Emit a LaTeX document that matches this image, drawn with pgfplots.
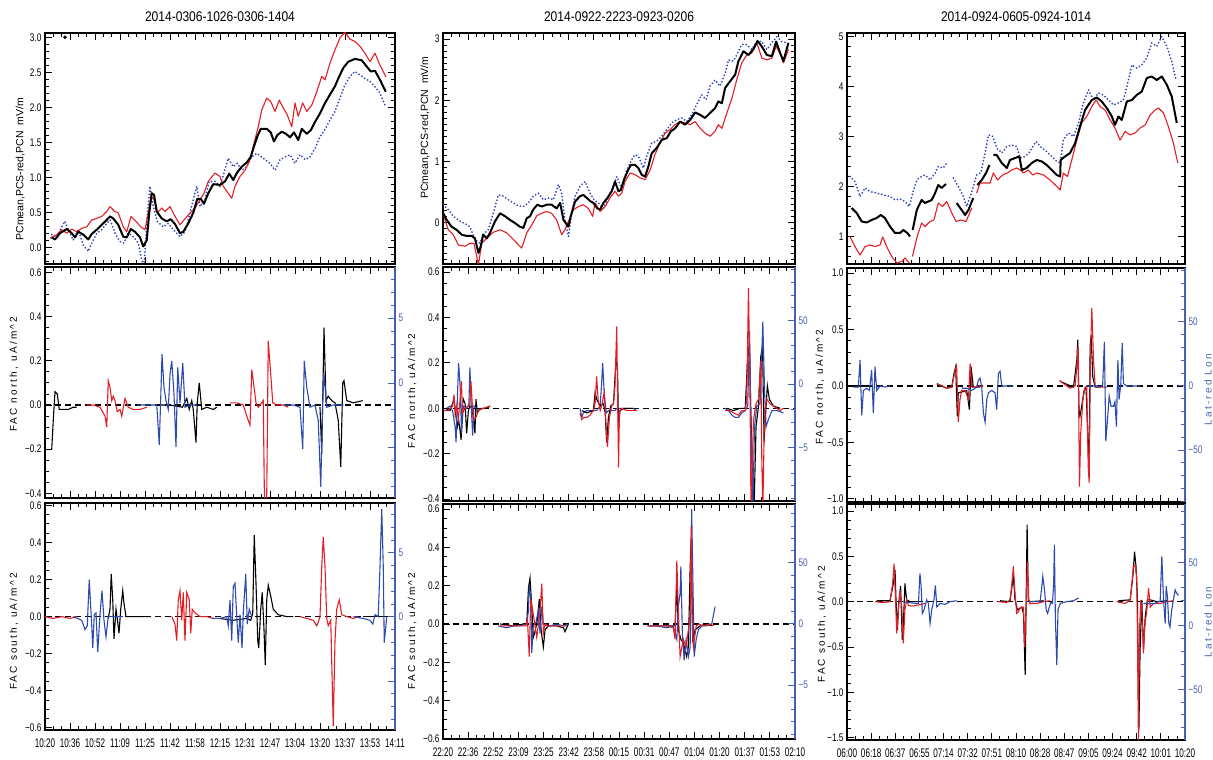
\documentclass[border=0pt]{standalone}
\usepackage{fontspec}
\setmainfont{Liberation Sans}
\newfontfamily\tickfont{Liberation Sans}[FakeStretch=0.75]
\newfontfamily\xtickfont{Liberation Sans}[FakeStretch=0.65]
\newfontfamily\titfont{Liberation Sans}[FakeStretch=0.86]
\newfontfamily\labfont{Liberation Sans}[LetterSpace=22]
\usepackage{pgfplots}
\pgfplotsset{compat=1.18}
\definecolor{redc}{RGB}{228,30,36}
\definecolor{bluec}{RGB}{45,75,175}
\definecolor{blueax}{RGB}{70,95,175}
\definecolor{bluedot}{RGB}{50,70,190}
\pgfplotsset{
 panel/.style={scale only axis, anchor=south west, xmin=0, xmax=14, xtick={0,...,14}, minor x tick num=2,
   xticklabels={}, tick align=inside, major tick length=7pt, minor tick length=4pt,
   axis line style={line width=1.1pt}, tick style={black, line width=0.9pt},
   tick label style={font=\fontsize{11}{12}\selectfont\tickfont}, xtick pos=both,
   unbounded coords=jump,
   ylabel style={font=\fontsize{10}{12}\selectfont\labfont, anchor=center},
   title style={font=\fontsize{14}{16}\selectfont\titfont, yshift=1.5pt}},
 toppanel/.style={panel, ytick pos=both},
 facpanel/.style={panel, ytick pos=left},
 botrow/.style={xticklabel pos=lower, xticklabel style={font=\fontsize{12.5}{14}\selectfont\xtickfont, yshift=-5.5pt}},
 rightax/.style={scale only axis, anchor=south west, xmin=0, xmax=14, axis x line=none, axis y line*=right,
   tick align=inside, major tick length=7pt, minor tick length=4pt,
   y axis line style={blueax, line width=1.1pt}, tick style={blueax, line width=0.9pt},
   yticklabel style={blueax, font=\fontsize{11}{12}\selectfont\tickfont},
   ylabel style={blueax, font=\fontsize{10}{12}\selectfont\labfont, anchor=center}},
 blkT/.style={black, line width=2pt, line join=round},
 redT/.style={redc, line width=1.1pt, line join=round},
 bluT/.style={bluedot, line width=2pt, line cap=round, dash pattern=on 0pt off 3.4pt},
 blkF/.style={black, line width=1.1pt},
 redF/.style={redc, line width=1.1pt},
 bluF/.style={bluec, line width=1.1pt},
 zline/.style={black, line width=1.3pt, dash pattern=on 6pt off 4pt},
}
\begin{document}
\begin{tikzpicture}
\useasboundingbox (0,0) rectangle (1213pt,760pt);
%================ COLUMN 1 =================
\begin{axis}[toppanel, at={(45pt,496pt)}, width=350pt, height=231pt,
  ymin=-0.23, ymax=3.07, ytick={0,0.5,1,1.5,2,2.5,3}, yticklabels={0.0,0.5,1.0,1.5,2.0,2.5,3.0},
  minor ytick={-0.2,-0.1,0.1,0.2,0.3,0.4,0.6,0.7,0.8,0.9,1.1,1.2,1.3,1.4,1.6,1.7,1.8,1.9,2.1,2.2,2.3,2.4,2.6,2.7,2.8,2.9},
  title={2014-0306-1026-0306-1404},
  ylabel={PCmean,PCS-red,PCN\ \ mV/m},
  ylabel style={font=\fontsize{10.5}{12}\selectfont, at={(axis description cs:-0.071,0.41)}}]
\addplot[bluT] coordinates {(0.27,0.19)(0.47,0.16)(0.67,0.30)(0.80,0.38)(0.93,0.26)(1.13,0.11)(1.33,0.26)(1.53,0.04)(1.73,-0.05)(1.87,0.07)(2.07,0.21)(2.27,0.26)(2.47,0.35)(2.60,0.40)(2.80,0.21)(3.00,0.09)(3.16,0.07)(3.33,0.21)(3.53,0.16)(3.73,0.07)(3.87,-0.17)(3.96,-0.27)(4.09,0.45)(4.20,0.88)(4.33,0.59)(4.49,0.38)(4.73,0.30)(4.93,0.35)(5.13,0.26)(5.40,0.16)(5.60,0.23)(5.73,0.40)(5.93,0.69)(6.07,0.88)(6.20,0.59)(6.40,0.69)(6.57,0.95)(6.80,0.95)(7.00,0.88)(7.16,1.07)(7.33,1.28)(7.53,1.16)(7.69,1.21)(7.87,1.11)(8.07,1.16)(8.27,1.30)(8.47,1.35)(8.73,1.28)(9.00,1.21)(9.20,1.11)(9.40,1.26)(9.60,1.30)(9.80,1.33)(10.00,1.21)(10.20,1.33)(10.40,1.26)(10.60,1.30)(10.80,1.42)(11.00,1.59)(11.20,1.69)(11.40,1.83)(11.60,1.95)(11.80,2.14)(12.00,2.33)(12.20,2.45)(12.40,2.52)(12.60,2.47)(12.80,2.42)(13.00,2.38)(13.20,2.30)(13.40,2.21)(13.63,2.01)};
\addplot[redT] coordinates {(0.20,0.14)(0.47,0.19)(0.67,0.26)(0.87,0.21)(1.07,0.27)(1.27,0.23)(1.47,0.28)(1.67,0.30)(1.87,0.40)(2.07,0.42)(2.27,0.45)(2.47,0.52)(2.60,0.59)(2.76,0.53)(2.93,0.50)(3.13,0.30)(3.27,0.23)(3.44,0.45)(3.64,0.38)(3.83,0.30)(4.00,0.26)(4.13,0.50)(4.24,0.73)(4.36,0.69)(4.49,0.50)(4.67,0.57)(4.80,0.52)(5.00,0.59)(5.20,0.45)(5.40,0.33)(5.56,0.40)(5.73,0.47)(6.00,0.57)(6.20,0.69)(6.36,0.78)(6.53,0.95)(6.80,1.07)(7.00,1.02)(7.13,0.88)(7.33,0.78)(7.47,0.71)(7.60,0.88)(7.80,1.02)(8.00,1.11)(8.20,1.26)(8.33,1.45)(8.53,1.73)(8.67,1.97)(8.87,2.14)(9.03,2.09)(9.20,1.95)(9.37,2.11)(9.53,2.00)(9.69,1.90)(9.87,1.73)(10.00,2.07)(10.13,1.88)(10.31,2.07)(10.47,1.95)(10.67,2.04)(10.87,2.23)(11.07,2.45)(11.20,2.40)(11.40,2.64)(11.60,2.83)(11.80,3.00)(12.00,3.08)(12.20,2.98)(12.40,2.95)(12.60,2.88)(12.80,2.78)(13.00,2.66)(13.20,2.78)(13.40,2.61)(13.64,2.44)};
\addplot[blkT] coordinates {(0.27,0.15)(0.40,0.12)(0.60,0.21)(0.87,0.27)(1.07,0.21)(1.20,0.15)(1.33,0.23)(1.53,0.19)(1.73,0.12)(1.87,0.20)(2.07,0.26)(2.27,0.33)(2.47,0.40)(2.60,0.45)(2.73,0.42)(2.93,0.33)(3.13,0.16)(3.27,0.15)(3.43,0.27)(3.60,0.23)(3.80,0.15)(3.93,0.02)(4.07,0.11)(4.17,0.50)(4.27,0.78)(4.36,0.76)(4.47,0.52)(4.67,0.42)(4.87,0.38)(5.03,0.41)(5.20,0.34)(5.40,0.21)(5.53,0.23)(5.73,0.35)(5.93,0.50)(6.09,0.70)(6.23,0.70)(6.36,0.63)(6.53,0.78)(6.73,0.91)(7.00,0.90)(7.20,0.95)(7.37,1.06)(7.53,0.97)(7.69,1.08)(7.87,1.16)(8.07,1.22)(8.23,1.30)(8.36,1.45)(8.49,1.59)(8.63,1.70)(8.87,1.70)(9.03,1.65)(9.16,1.52)(9.29,1.61)(9.47,1.66)(9.64,1.63)(9.80,1.58)(9.96,1.65)(10.13,1.54)(10.27,1.70)(10.47,1.63)(10.63,1.68)(10.80,1.80)(11.00,1.92)(11.20,2.07)(11.40,2.19)(11.60,2.31)(11.73,2.42)(11.93,2.57)(12.13,2.66)(12.40,2.70)(12.67,2.68)(12.87,2.59)(13.03,2.52)(13.20,2.53)(13.40,2.40)(13.63,2.23)};
\addplot[only marks, mark=*, mark size=1.6pt, black] coordinates {(0.80,3.01)};
\end{axis}
% col1 middle
\begin{axis}[facpanel, at={(45pt,262pt)}, width=350pt, height=231pt,
  ymin=-0.421, ymax=0.625, ytick={-0.4,-0.2,0,0.2,0.4,0.6}, yticklabels={−0.4,−0.2,0.0,0.2,0.4,0.6},
  minor ytick={-0.35,-0.3,-0.25,-0.15,-0.1,-0.05,0.05,0.1,0.15,0.25,0.3,0.35,0.45,0.5,0.55},
  ylabel={FAC north, uA/m\textasciicircum 2}, ylabel style={at={(axis description cs:-0.089,0.535)}}]
\addplot[zline] coordinates {(0,0)(14,0)};
\addplot[blkF] coordinates {(0.27,-0.20)(0.33,-0.07)(0.40,0.06)(0.49,0.05)(0.57,-0.02)(0.73,-0.02)(0.93,-0.02)(1.13,-0.01)(1.27,-0.01)};
\addplot[blkF] coordinates {(4.5,0)(5.0,0)(5.5,-0.01)(5.67,0.03)(5.77,-0.02)(5.87,0.02)(5.93,-0.02)(6.04,-0.17)(6.09,0.01)(6.17,0.10)(6.27,-0.02)(6.47,-0.01)(6.73,-0.02)(6.87,-0.01)};
\addplot[blkF] coordinates {(11.00,-0.01)(11.07,-0.22)(11.16,0.35)(11.24,0.02)(11.33,0.04)(11.47,0.02)(11.60,0.01)(11.73,-0.07)(11.83,-0.28)(11.91,0.10)(11.96,0.11)(12.07,0.02)(12.33,0.01)(12.71,0.02)};
\addplot[redF] coordinates {(1.67,0)(1.93,0)(2.20,-0.01)(2.40,-0.05)(2.47,-0.10)(2.53,0.11)(2.60,0.08)(2.67,0.02)(2.73,0.04)(2.80,0.02)(2.89,-0.03)(3.00,-0.02)(3.07,-0.05)(3.20,0.03)(3.33,-0.01)(3.53,-0.02)(3.80,-0.02)(4.07,-0.01)};
\addplot[redF] coordinates {(7.40,0.01)(7.67,0.01)(7.93,0)(8.13,-0.07)(8.20,-0.09)(8.27,0.16)(8.33,0.11)(8.44,0.01)(8.53,-0.01)(8.67,0.01)(8.73,0.02)(8.78,-0.45)(8.84,-0.45)(8.87,-0.40)(8.93,0.29)(9.03,0.14)(9.11,0.01)(9.27,0)(9.53,0)(9.73,-0.01)};
\addplot[bluF] coordinates {(3.69,0)(4.07,0)(4.47,0)(4.57,-0.18)(4.64,0.07)(4.68,0.23)(4.76,0.08)(4.84,0.02)(4.93,-0.02)(5.00,0.14)(5.07,0.20)(5.16,0.05)(5.24,-0.19)(5.31,0.17)(5.40,0.01)(5.51,0.19)(5.60,-0.01)(5.80,0)(6.07,0)};
\addplot[bluF] coordinates {(9.53,0)(9.93,0)(10.20,-0.01)(10.31,-0.20)(10.37,0.20)(10.47,0.08)(10.60,-0.01)(10.80,0)(10.93,-0.07)(11.03,-0.37)(11.11,0.02)(11.16,0.14)(11.27,-0.01)(11.53,0)(11.93,0)};
\end{axis}
\begin{axis}[rightax, at={(45pt,262pt)}, width=350pt, height=231pt,
  ymin=-8.85, ymax=8.92, ytick={-5,0,5}, yticklabels={,0,5}, minor ytick={-8,-7,-6,-4,-3,-2,-1,1,2,3,4,6,7,8}]
\end{axis}
% col1 bottom
\begin{axis}[facpanel, botrow, at={(45pt,30pt)}, width=350pt, height=227pt,
  xticklabels={10:20,10:36,10:52,11:09,11:25,11:42,11:58,12:15,12:31,12:47,13:04,13:20,13:37,13:53,14:11},
  ymin=-0.612, ymax=0.613, ytick={-0.6,-0.4,-0.2,0,0.2,0.4,0.6}, yticklabels={−0.6,−0.4,−0.2,0.0,0.2,0.4,0.6},
  minor ytick={-0.55,-0.5,-0.45,-0.35,-0.3,-0.25,-0.15,-0.1,-0.05,0.05,0.1,0.15,0.25,0.3,0.35,0.45,0.5,0.55},
  ylabel={FAC south, uA/m\textasciicircum 2}, ylabel style={at={(axis description cs:-0.089,0.434)}}]
\addplot[zline] coordinates {(0,0)(14,0)};
\addplot[redF] coordinates {(0,0)(0.33,-0.01)(0.67,0)(1.00,-0.01)(1.27,0)};
\addplot[blkF] coordinates {(2.53,-0.01)(2.60,0.04)(2.65,0.23)(2.71,0.09)(2.76,-0.12)(2.84,0.04)(2.89,-0.01)(2.96,-0.09)(3.03,0.04)(3.11,0.14)(3.16,0.07)(3.24,0)(3.53,0)(3.93,0)(4.20,0)};
\addplot[bluF] coordinates {(1.13,0)(1.47,-0.02)(1.60,-0.07)(1.69,-0.05)(1.77,0.20)(1.87,-0.05)(1.91,-0.17)(1.97,0.01)(2.04,0.02)(2.11,-0.19)(2.20,0.01)(2.28,0.14)(2.36,-0.02)(2.44,-0.11)(2.53,0)(2.80,0)(3.13,0)};
\addplot[redF] coordinates {(5.07,0)(5.20,-0.04)(5.27,-0.13)(5.33,0.09)(5.40,0.14)(5.47,-0.02)(5.53,0.13)(5.60,-0.13)(5.67,0.13)(5.77,0.09)(5.83,-0.09)(5.89,0.04)(6.00,0.02)(6.20,0)(6.47,0)(6.73,-0.01)};
\addplot[blkF] coordinates {(7.0,-0.01)(7.5,-0.02)(8.07,-0.01)(8.23,-0.02)(8.31,0.02)(8.37,0.44)(8.44,0.18)(8.51,-0.13)(8.55,-0.17)(8.63,0.04)(8.69,0.13)(8.76,-0.07)(8.81,-0.26)(8.87,0.09)(8.93,0.17)(9.03,0.11)(9.13,0.04)(9.33,0.01)(9.67,0)(9.93,0)};
\addplot[bluF] coordinates {(6.67,-0.01)(7.00,-0.01)(7.27,0)(7.33,-0.05)(7.40,0.09)(7.47,-0.13)(7.53,0.16)(7.60,0.18)(7.67,0)(7.73,-0.14)(7.80,0.01)(7.88,-0.17)(7.93,0.02)(8.03,0.23)(8.09,-0.04)(8.17,0.04)(8.27,0)};
\addplot[redF] coordinates {(10.20,0)(10.47,-0.01)(10.73,-0.02)(10.87,-0.05)(10.93,-0.03)(11.00,0)(11.07,0.27)(11.13,0.43)(11.20,0.27)(11.27,-0.01)(11.33,-0.05)(11.43,-0.02)(11.53,-0.59)(11.60,-0.13)(11.67,0.04)(11.77,0.09)(11.87,0.01)(12.07,0)(12.33,-0.01)(12.53,0)};
\addplot[blkF] coordinates {(12.73,0)(13.87,0)};
\addplot[bluF] coordinates {(12.33,0)(12.73,-0.01)(13.00,-0.02)(13.11,-0.04)(13.20,0.01)(13.33,0)(13.40,0.27)(13.47,0.58)(13.53,0.27)(13.57,-0.14)(13.67,0)};
\end{axis}
\begin{axis}[rightax, at={(45pt,30pt)}, width=350pt, height=227pt,
  ymin=-8.83, ymax=8.9, ytick={-5,0,5}, yticklabels={,0,5}, minor ytick={-8,-7,-6,-4,-3,-2,-1,1,2,3,4,6,7,8}]
\end{axis}
%================ COLUMN 2 =================
\begin{axis}[toppanel, at={(443pt,496pt)}, width=352pt, height=231pt,
  ymin=-0.68, ymax=3.10, ytick={0,1,2,3}, yticklabels={0,1,2,3},
  minor ytick={-0.6,-0.5,-0.4,-0.3,-0.2,-0.1,0.1,0.2,0.3,0.4,0.5,0.6,0.7,0.8,0.9,1.1,1.2,1.3,1.4,1.5,1.6,1.7,1.8,1.9,2.1,2.2,2.3,2.4,2.5,2.6,2.7,2.8,2.9,3.1},
  title={2014-0922-2223-0923-0206},
  ylabel={PCmean,PCS-red,PCN\ \ mV/m},
  ylabel style={font=\fontsize{10.5}{12}\selectfont, at={(axis description cs:-0.051,0.59)}}]
\addplot[bluT] coordinates {(0.01,0.29)(0.21,0.21)(0.41,0.10)(0.68,0.02)(0.88,-0.02)(1.07,-0.07)(1.27,-0.28)(1.47,-0.34)(1.60,-0.20)(1.80,-0.12)(2.00,0.15)(2.20,0.45)(2.40,0.43)(2.60,0.37)(2.80,0.32)(3.00,0.27)(3.20,0.26)(3.40,0.32)(3.59,0.43)(3.79,0.48)(3.99,0.37)(4.19,0.40)(4.39,0.37)(4.59,0.62)(4.72,0.48)(4.85,0.04)(4.99,-0.23)(5.12,0.15)(5.25,0.43)(5.45,0.59)(5.65,0.67)(5.85,0.48)(6.01,0.37)(6.18,0.32)(6.38,0.23)(6.58,0.43)(6.78,0.59)(6.91,0.75)(7.11,0.56)(7.31,0.86)(7.51,1.03)(7.64,1.11)(7.77,1.08)(7.97,0.89)(8.10,1.08)(8.30,1.30)(8.50,1.33)(8.70,1.41)(8.90,1.52)(9.10,1.63)(9.30,1.68)(9.50,1.71)(9.69,1.65)(9.89,1.76)(10.09,1.93)(10.29,2.09)(10.46,2.01)(10.62,2.23)(10.82,2.33)(11.02,2.23)(11.22,2.44)(11.35,2.66)(11.55,2.64)(11.68,2.74)(11.88,2.91)(12.08,2.91)(12.28,2.83)(12.48,2.96)(12.68,2.96)(12.88,2.83)(13.08,2.94)(13.28,3.04)(13.47,2.96)(13.67,2.94)};
\addplot[redT] coordinates {(0.01,0.13)(0.21,-0.12)(0.41,-0.20)(0.61,-0.37)(0.88,-0.39)(1.07,-0.34)(1.23,-0.34)(1.41,-0.69)(1.54,-0.34)(1.74,-0.26)(2.00,-0.16)(2.27,-0.12)(2.53,-0.17)(2.80,-0.28)(3.13,-0.42)(3.33,-0.17)(3.53,-0.04)(3.73,0.11)(3.93,0.15)(4.12,0.18)(4.32,0.15)(4.52,0.04)(4.72,-0.20)(4.85,-0.12)(4.99,0.02)(5.19,0.21)(5.39,0.26)(5.58,0.29)(5.78,0.23)(5.95,0.10)(6.05,0.32)(6.25,0.18)(6.45,0.26)(6.64,0.40)(6.84,0.51)(6.98,0.43)(7.11,0.48)(7.24,0.67)(7.44,0.81)(7.64,0.78)(7.84,0.73)(8.04,0.70)(8.24,0.86)(8.43,1.11)(8.63,1.30)(8.83,1.46)(9.03,1.52)(9.23,1.60)(9.43,1.65)(9.63,1.63)(9.83,1.60)(10.03,1.65)(10.23,1.54)(10.42,1.46)(10.62,1.41)(10.82,1.49)(10.95,1.60)(11.09,1.54)(11.29,1.79)(11.49,2.03)(11.68,2.33)(11.88,2.61)(12.08,2.74)(12.28,2.77)(12.48,2.94)(12.68,2.69)(12.88,2.66)(13.08,2.69)(13.25,2.88)(13.41,2.77)(13.54,2.61)(13.74,2.83)};
\addplot[blkT] coordinates {(0.01,0.15)(0.15,0.04)(0.34,-0.07)(0.54,-0.12)(0.74,-0.20)(0.94,-0.22)(1.14,-0.22)(1.27,-0.26)(1.41,-0.50)(1.50,-0.39)(1.60,-0.20)(1.74,-0.26)(1.87,-0.17)(2.07,0.02)(2.27,0.15)(2.47,0.10)(2.67,0.04)(2.86,-0.01)(3.06,-0.07)(3.20,-0.09)(3.33,0.07)(3.46,0.10)(3.59,0.21)(3.75,0.29)(3.93,0.26)(4.12,0.29)(4.32,0.29)(4.52,0.23)(4.66,0.32)(4.79,0.04)(4.99,-0.07)(5.08,0.10)(5.25,0.34)(5.45,0.43)(5.58,0.45)(5.72,0.40)(5.88,0.34)(5.98,0.32)(6.14,0.23)(6.25,0.21)(6.38,0.32)(6.54,0.40)(6.71,0.51)(6.84,0.67)(6.98,0.51)(7.07,0.53)(7.20,0.70)(7.33,0.83)(7.47,0.94)(7.64,0.94)(7.77,0.89)(7.90,0.78)(8.04,0.75)(8.17,0.92)(8.30,1.13)(8.50,1.22)(8.70,1.35)(8.90,1.38)(9.06,1.49)(9.23,1.54)(9.43,1.65)(9.63,1.60)(9.83,1.68)(10.03,1.80)(10.23,1.76)(10.42,1.71)(10.62,1.79)(10.82,1.87)(10.95,1.98)(11.09,1.95)(11.22,2.20)(11.42,2.31)(11.62,2.42)(11.75,2.64)(11.95,2.80)(12.15,2.74)(12.35,2.84)(12.51,2.97)(12.68,2.88)(12.88,2.74)(13.08,2.72)(13.25,2.96)(13.41,2.77)(13.54,2.64)(13.74,2.94)};
\end{axis}
% col2 middle
\begin{axis}[facpanel, at={(443pt,259pt)}, width=352pt, height=234pt,
  ymin=-0.408, ymax=0.622, ytick={-0.4,-0.2,0,0.2,0.4,0.6}, yticklabels={−0.4,−0.2,0.0,0.2,0.4,0.6},
  minor ytick={-0.35,-0.3,-0.25,-0.15,-0.1,-0.05,0.05,0.1,0.15,0.25,0.3,0.35,0.45,0.5,0.55},
  ylabel={FAC north, uA/m\textasciicircum 2}, ylabel style={at={(axis description cs:-0.088,0.47)}}]
\addplot[zline] coordinates {(0,0)(14,0)};
\addplot[blkF] coordinates {(0.08,0)(0.28,-0.01)(0.44,0.04)(0.52,-0.04)(0.57,-0.08)(0.62,-0.05)(0.68,-0.10)(0.72,-0.14)(0.76,0.01)(0.81,0.04)(0.88,0.02)(0.94,-0.11)(1.01,-0.01)(1.07,0.01)(1.14,0)(1.21,-0.04)(1.27,-0.11)(1.31,0.04)(1.37,-0.02)(1.47,0)(1.74,0)(1.87,0.01)};
\addplot[bluF] coordinates {(0.15,0)(0.28,0.01)(0.38,-0.01)(0.48,-0.08)(0.52,-0.15)(0.57,0.04)(0.62,0.20)(0.68,0.10)(0.74,-0.11)(0.81,0.01)(0.94,0)(1.03,0.02)(1.07,0.18)(1.13,-0.01)(1.18,-0.12)(1.23,0.01)(1.34,0)};
\addplot[redF] coordinates {(0.01,-0.01)(0.21,-0.01)(0.38,0.01)(0.44,0.06)(0.48,-0.02)(0.54,0.01)(0.61,-0.05)(0.68,0.04)(0.73,0.12)(0.78,-0.02)(0.88,0)(1.01,0.01)(1.07,0.02)(1.11,0.12)(1.18,-0.01)(1.23,-0.05)(1.31,-0.04)(1.41,-0.01)(1.60,0)(1.87,0.01)};
\addplot[bluF] coordinates {(5.45,0)(5.52,-0.04)(5.58,-0.02)(5.72,-0.01)(5.92,-0.01)(6.11,-0.01)(6.25,0.01)(6.31,0.11)(6.35,0.20)(6.41,0.07)(6.49,-0.02)(6.58,-0.01)(6.71,-0.01)(6.84,-0.01)(6.91,0)(7.04,0)(7.57,0)(7.68,-0.01)};
\addplot[blkF] coordinates {(5.52,-0.01)(5.72,-0.02)(5.98,-0.01)(6.05,0.07)(6.11,0.04)(6.25,0.01)(6.38,0.02)(6.45,-0.02)(6.51,-0.15)(6.58,-0.04)(6.67,0.01)(6.78,0.02)(6.88,0.21)(6.94,0.18)(6.98,-0.08)(7.04,-0.01)(7.18,0)(7.57,0)};
\addplot[redF] coordinates {(5.45,-0.02)(5.52,-0.05)(5.61,-0.04)(5.72,-0.04)(5.85,-0.03)(5.98,-0.01)(6.05,0.02)(6.11,0.14)(6.17,0.04)(6.25,-0.01)(6.31,0.01)(6.41,0.07)(6.49,-0.08)(6.54,-0.17)(6.62,-0.04)(6.71,0.01)(6.78,0.02)(6.84,0.10)(6.91,0.36)(6.98,-0.26)(7.02,-0.01)(7.11,0)(7.31,-0.01)(7.57,-0.01)(7.71,-0.01)};
\addplot[blkF] coordinates {(11.29,0)(11.55,-0.01)(11.82,0)(12.02,0)(12.11,0.21)(12.19,0.29)(12.24,-0.01)(12.32,-0.30)(12.37,-0.45)(12.45,-0.08)(12.55,0.01)(12.64,0.23)(12.71,0.27)(12.77,-0.15)(12.84,-0.01)(12.90,0.10)(12.98,0.04)(13.14,0.01)(13.41,0)};
\addplot[bluF] coordinates {(11.22,0)(11.35,-0.01)(11.49,-0.03)(11.62,-0.04)(11.75,-0.04)(11.88,-0.02)(12.02,-0.01)(12.12,0.01)(12.19,0.34)(12.25,-0.08)(12.32,-0.45)(12.39,-0.08)(12.48,0.01)(12.61,0.02)(12.72,0.38)(12.79,0.07)(12.85,-0.08)(12.94,-0.05)(13.08,-0.01)(13.28,-0.01)(13.54,-0.02)};
\addplot[redF] coordinates {(11.22,-0.01)(11.42,-0.01)(11.55,-0.02)(11.75,-0.03)(11.88,-0.01)(12.02,-0.01)(12.08,0.04)(12.15,0.53)(12.21,0.07)(12.25,-0.45)(12.35,-0.05)(12.45,0.02)(12.55,0.04)(12.64,0.21)(12.68,-0.23)(12.72,-0.45)(12.79,-0.01)(12.88,0.04)(13.01,0.02)(13.14,0.01)(13.41,-0.01)(13.54,0)};
\end{axis}
\begin{axis}[rightax, at={(443pt,259pt)}, width=352pt, height=234pt,
  ymin=-92, ymax=92, ytick={-50,0,50}, yticklabels={−5,0,50}, minor ytick={-90,-80,...,90}]
\end{axis}
% col2 bottom
\begin{axis}[facpanel, botrow, at={(443pt,21pt)}, width=352pt, height=235pt,
  xticklabels={22:20,22:36,22:52,23:09,23:25,23:42,23:58,00:15,00:31,00:47,01:04,01:20,01:37,01:53,02:10},
  ymin=-0.60, ymax=0.626, ytick={-0.6,-0.4,-0.2,0,0.2,0.4,0.6}, yticklabels={−0.6,−0.4,−0.2,0.0,0.2,0.4,0.6},
  minor ytick={-0.55,-0.5,-0.45,-0.35,-0.3,-0.25,-0.15,-0.1,-0.05,0.05,0.1,0.15,0.25,0.3,0.35,0.45,0.5,0.55},
  ylabel={FAC south, uA/m\textasciicircum 2}, ylabel style={at={(axis description cs:-0.088,0.46)}}]
\addplot[zline] coordinates {(0,0)(14,0)};
\addplot[blkF] coordinates {(2.27,0)(2.80,-0.01)(3.20,0)(3.33,0)(3.40,0.19)(3.46,0.24)(3.53,0.09)(3.59,-0.07)(3.66,-0.04)(3.75,0.02)(3.83,0.13)(3.90,-0.03)(3.99,-0.12)(4.06,-0.03)(4.19,-0.01)(4.52,-0.01)(4.79,-0.02)(4.85,-0.04)(4.99,0)};
\addplot[bluF] coordinates {(2.20,-0.01)(2.53,-0.02)(2.80,-0.01)(3.06,-0.01)(3.33,0)(3.40,0.07)(3.43,0.20)(3.49,0.13)(3.53,-0.15)(3.59,-0.01)(3.70,0.01)(3.79,0.07)(3.86,-0.05)(3.93,0.09)(3.99,0)(4.12,-0.01)(4.26,-0.01)(4.52,0)(4.79,-0.01)(4.99,0)};
\addplot[redF] coordinates {(2.27,-0.01)(2.67,-0.01)(3.06,-0.01)(3.30,-0.01)(3.36,0.02)(3.43,-0.17)(3.49,0.13)(3.57,0.07)(3.66,-0.01)(3.73,-0.07)(3.86,0.07)(3.93,0.21)(3.99,-0.05)(4.06,0)(4.19,-0.01)(4.39,-0.01)(4.66,-0.01)(4.92,-0.01)};
\addplot[blkF] coordinates {(8.17,-0.01)(8.63,-0.01)(9.03,-0.01)(9.23,-0.01)(9.30,0.21)(9.36,-0.03)(9.46,-0.08)(9.56,-0.10)(9.69,-0.17)(9.76,-0.12)(9.83,0.30)(9.87,0.44)(9.93,-0.08)(10.03,-0.03)(10.23,-0.01)(10.49,0)(10.69,-0.01)};
\addplot[bluF] coordinates {(8.17,-0.01)(8.50,-0.01)(8.90,-0.02)(9.16,-0.01)(9.30,-0.08)(9.36,0.09)(9.43,0.16)(9.46,0.30)(9.52,-0.05)(9.59,-0.19)(9.67,-0.08)(9.76,-0.17)(9.83,-0.12)(9.89,0.60)(9.93,0.30)(9.99,-0.17)(10.07,-0.08)(10.16,-0.03)(10.29,-0.01)(10.49,-0.01)(10.69,0)(10.82,0.09)};
\addplot[redF] coordinates {(8.10,-0.01)(8.50,-0.01)(8.90,-0.01)(9.16,-0.02)(9.23,-0.08)(9.30,0.33)(9.36,0.07)(9.43,-0.17)(9.56,-0.08)(9.67,-0.12)(9.76,-0.03)(9.83,0.04)(9.87,0.51)(9.92,-0.05)(9.96,-0.12)(10.07,-0.01)(10.16,0)(10.36,-0.01)(10.62,0)(10.76,-0.01)};
\end{axis}
\begin{axis}[rightax, at={(443pt,21pt)}, width=352pt, height=235pt,
  ymin=-94, ymax=98, ytick={-50,0,50}, yticklabels={−5,0,50}, minor ytick={-90,-80,...,90}]
\end{axis}
%================ COLUMN 3 =================
\begin{axis}[toppanel, at={(847pt,496pt)}, width=338pt, height=231pt,
  ymin=0.45, ymax=5.07, ytick={1,2,3,4,5}, yticklabels={1,2,3,4,5},
  minor ytick={0.6,0.8,1.2,1.4,1.6,1.8,2.2,2.4,2.6,2.8,3.2,3.4,3.6,3.8,4.2,4.4,4.6,4.8},
  title={2014-0924-0605-0924-1014}]
\addplot[bluT] coordinates {(0.12,2.20)(0.33,2.10)(0.54,1.80)(0.75,1.97)(0.95,1.90)(1.23,1.87)(1.51,1.83)(1.78,1.80)(1.99,1.73)(2.20,1.75)(2.40,1.70)(2.58,1.60)(2.72,1.87)(2.89,2.13)(3.09,2.20)(3.23,2.23)(3.44,2.13)(3.65,2.27)(3.78,2.40)(3.99,2.37)(4.13,2.47)(4.2,nan)(4.41,2.17)(4.61,2.00)(4.82,1.80)(4.96,1.60)(5.10,1.80)(5.23,2.00)(5.37,2.23)(5.54,2.27)(5.72,2.67)(5.86,3.03)(6.04,3.00)(6.20,2.77)(6.41,2.67)(6.62,2.80)(6.82,2.83)(7.03,2.80)(7.17,2.57)(7.38,2.60)(7.58,2.70)(7.83,2.90)(8.07,2.77)(8.27,2.70)(8.48,2.60)(8.69,2.50)(8.83,2.47)(8.96,2.93)(9.17,3.07)(9.38,3.00)(9.59,3.27)(9.79,3.67)(10.00,3.93)(10.21,3.73)(10.41,3.87)(10.62,3.83)(10.83,3.73)(11.04,3.63)(11.24,3.67)(11.45,3.73)(11.66,4.13)(11.80,4.43)(12.00,4.37)(12.21,4.43)(12.42,4.57)(12.62,4.87)(12.83,4.80)(13.04,5.00)(13.25,4.80)(13.45,4.50)(13.63,4.13)};
\addplot[redT] coordinates {(0.12,1.00)(0.33,0.80)(0.54,0.63)(0.75,0.80)(0.95,0.83)(1.16,0.80)(1.37,0.83)(1.48,0.99)(1.64,0.80)(1.85,0.60)(2.06,0.47)(2.27,0.50)(2.40,0.57)(2.58,0.47)(2.65,nan)(2.71,0.60)(2.89,0.97)(3.09,1.27)(3.23,1.20)(3.44,1.30)(3.60,1.33)(3.78,1.67)(3.96,1.60)(4.13,1.70)(4.34,1.47)(4.52,1.30)(4.72,1.33)(4.93,1.30)(5.17,1.57)(5.25,nan)(5.37,1.87)(5.51,2.07)(5.72,2.07)(5.93,2.07)(6.06,2.27)(6.24,2.13)(6.45,2.23)(6.64,2.27)(6.82,2.33)(7.03,2.37)(7.17,2.33)(7.31,2.27)(7.51,2.33)(7.69,2.23)(7.86,2.27)(8.14,2.23)(8.41,2.13)(8.69,2.00)(8.83,1.93)(8.96,2.27)(9.13,2.20)(9.31,2.53)(9.52,2.93)(9.72,3.27)(9.93,3.40)(10.14,3.60)(10.32,3.73)(10.48,3.60)(10.69,3.53)(10.90,3.33)(11.10,3.17)(11.31,2.93)(11.52,3.10)(11.73,3.03)(11.93,3.07)(12.14,3.17)(12.35,3.23)(12.56,3.43)(12.76,3.53)(12.90,3.57)(13.11,3.47)(13.31,3.20)(13.52,2.87)(13.70,2.47)};
\addplot[blkT] coordinates {(0.19,1.57)(0.40,1.47)(0.61,1.30)(0.81,1.28)(1.02,1.33)(1.23,1.37)(1.40,1.43)(1.57,1.37)(1.78,1.20)(1.99,1.07)(2.20,1.07)(2.33,1.13)(2.50,1.07)(2.61,1.00)(2.66,nan)(2.72,1.13)(2.89,1.53)(3.09,1.73)(3.23,1.67)(3.37,1.70)(3.51,1.73)(3.65,1.87)(3.78,2.03)(3.92,1.97)(4.10,2.05)(4.3,nan)(4.54,1.67)(4.75,1.53)(4.89,1.43)(5.03,1.53)(5.23,1.77)(5.3,nan)(5.40,2.03)(5.58,2.13)(5.76,2.27)(5.90,2.43)(5.98,nan)(6.06,2.63)(6.20,2.63)(6.41,2.47)(6.62,2.37)(6.75,2.53)(6.96,2.57)(7.14,2.60)(7.24,2.33)(7.44,2.37)(7.65,2.47)(7.86,2.53)(8.07,2.50)(8.27,2.43)(8.48,2.33)(8.69,2.23)(8.83,2.20)(8.85,2.53)(9.03,2.60)(9.24,2.67)(9.45,2.87)(9.65,3.20)(9.86,3.53)(10.14,3.73)(10.35,3.78)(10.55,3.70)(10.76,3.57)(10.97,3.40)(11.10,3.23)(11.24,3.40)(11.38,3.33)(11.59,3.70)(11.80,3.73)(12.00,3.83)(12.21,3.90)(12.42,4.17)(12.62,4.20)(12.83,4.13)(13.04,4.20)(13.25,4.03)(13.45,3.80)(13.66,3.27)};
\end{axis}
% col3 middle
\begin{axis}[facpanel, at={(847pt,258pt)}, width=338pt, height=234pt,
  ymin=-1.027, ymax=1.044, ytick={-1,-0.5,0,0.5,1}, yticklabels={−1.0,−0.5,0.0,0.5,1.0},
  minor ytick={-0.9,-0.8,-0.7,-0.6,-0.4,-0.3,-0.2,-0.1,0.1,0.2,0.3,0.4,0.6,0.7,0.8,0.9},
  ylabel={FAC north, uA/m\textasciicircum 2}, ylabel style={at={(axis description cs:-0.08,0.49)}}]
\addplot[zline] coordinates {(0,0)(14,0)};
\addplot[blkF] coordinates {(0.26,0)(1.0,0)};
\addplot[bluF] coordinates {(0.26,-0.01)(0.47,-0.01)(0.54,0.23)(0.61,-0.26)(0.68,-0.04)(0.81,-0.02)(0.93,-0.04)(1.02,0.14)(1.09,-0.24)(1.16,0.17)(1.23,-0.04)(1.37,0)(1.57,-0.01)(1.78,0)};
\addplot[blkF] coordinates {(3.72,0.02)(3.92,0)(4.13,-0.02)(4.34,-0.01)(4.43,0.11)(4.50,0.17)(4.57,-0.27)(4.61,-0.06)(4.82,-0.05)(4.96,-0.04)(5.07,-0.21)(5.14,0.17)(5.23,-0.01)(5.37,-0.01)(5.51,-0.01)};
\addplot[redF] coordinates {(3.72,0.02)(3.92,0)(4.13,-0.02)(4.34,-0.01)(4.48,0.14)(4.54,0.18)(4.61,-0.32)(4.68,-0.12)(4.75,-0.04)(4.89,-0.04)(5.03,-0.12)(5.10,0.20)(5.17,-0.01)(5.30,-0.01)(5.44,0)(5.65,0)};
\addplot[bluF] coordinates {(4.75,-0.02)(4.96,-0.02)(5.17,-0.04)(5.37,-0.01)(5.44,0.05)(5.51,0.07)(5.58,-0.01)(5.65,-0.24)(5.72,-0.32)(5.79,-0.12)(5.86,-0.06)(5.99,-0.04)(6.13,-0.06)(6.20,-0.21)(6.27,0.11)(6.34,0.13)(6.41,0)(6.62,0)(6.89,0)};
\addplot[blkF] coordinates {(8.83,0.04)(9.38,-0.01)(9.52,0.23)(9.56,0.41)(9.61,-0.21)(9.65,-0.27)(9.72,-0.18)(9.82,-0.04)(9.90,-0.01)(9.96,-0.36)(10.03,-0.77)(10.07,0.35)(10.11,0.45)(10.18,0.08)(10.28,-0.01)(10.48,-0.01)};
\addplot[redF] coordinates {(8.80,0.05)(9.03,0.01)(9.24,-0.02)(9.45,0)(9.52,0.17)(9.57,0.35)(9.63,-0.89)(9.68,-0.42)(9.77,-0.12)(9.86,-0.01)(9.93,-0.01)(9.99,-0.71)(10.03,-0.86)(10.08,0.23)(10.14,0.69)(10.21,0.23)(10.28,0)(10.48,-0.01)(10.76,-0.01)};
\addplot[bluF] coordinates {(9.93,0)(10.35,0)(10.48,-0.01)(10.59,0.01)(10.66,0.39)(10.72,-0.49)(10.79,-0.30)(10.86,-0.09)(10.94,-0.18)(11.04,-0.18)(11.10,-0.14)(11.16,-0.36)(11.22,0.23)(11.27,-0.12)(11.34,0.02)(11.40,0.38)(11.45,0.02)(11.59,0)(11.86,0)(12.14,0)};
\end{axis}
\begin{axis}[rightax, at={(847pt,258pt)}, width=338pt, height=234pt,
  ymin=-90.6, ymax=92, ytick={-50,0,50}, yticklabels={−50,0,50}, minor ytick={-90,-80,...,90},
  ylabel={Lat-red Lon}, ylabel style={at={(axis description cs:1.068,0.48)}}]
\end{axis}
% col3 bottom
\begin{axis}[facpanel, botrow, at={(847pt,20pt)}, width=338pt, height=236pt,
  xticklabels={06:00,06:18,06:37,06:55,07:14,07:32,07:51,08:10,08:28,08:47,09:05,09:24,09:42,10:01,10:20},
  ymin=-1.526, ymax=1.077, ytick={-1.5,-1,-0.5,0,0.5,1}, yticklabels={−1.5,−1.0,−0.5,0.0,0.5,1.0},
  minor ytick={-1.4,-1.3,-1.2,-1.1,-0.9,-0.8,-0.7,-0.6,-0.4,-0.3,-0.2,-0.1,0.1,0.2,0.3,0.4,0.6,0.7,0.8,0.9},
  ylabel={FAC south, uA/m\textasciicircum 2}, ylabel style={at={(axis description cs:-0.074,0.49)}}]
\addplot[zline] coordinates {(0,0)(14,0)};
\addplot[blkF] coordinates {(1.23,0.01)(1.78,0.01)(1.92,0.20)(1.99,0.35)(2.03,0.02)(2.09,-0.31)(2.14,-0.02)(2.22,0.17)(2.29,-0.42)(2.33,-0.28)(2.40,0.20)(2.47,0.02)(2.61,0)(2.89,0)};
\addplot[redF] coordinates {(1.16,0)(1.51,-0.01)(1.78,0)(1.89,0.20)(1.95,0.42)(2.00,0.09)(2.06,-0.35)(2.13,-0.09)(2.20,0.13)(2.27,-0.06)(2.33,-0.46)(2.40,-0.09)(2.47,0.02)(2.54,-0.04)(2.68,-0.05)(2.89,-0.04)(3.09,-0.03)(3.23,-0.02)};
\addplot[bluF] coordinates {(2.33,0)(2.61,-0.01)(2.82,-0.02)(2.96,-0.02)(3.02,0.31)(3.07,0.17)(3.12,-0.13)(3.19,-0.09)(3.30,0.02)(3.37,-0.02)(3.44,-0.24)(3.51,-0.09)(3.60,0.02)(3.66,0.18)(3.72,-0.06)(3.85,-0.02)(4.06,-0.03)(4.27,0)(4.54,0.01)};
\addplot[blkF] coordinates {(6.34,0.01)(6.75,0)(6.89,0.28)(6.96,0.02)(7.06,-0.09)(7.24,-0.06)(7.31,-0.13)(7.38,-0.81)(7.42,0.02)(7.46,0.85)(7.51,0.02)(7.58,0)(8.14,0.01)};
\addplot[redF] coordinates {(6.27,0)(6.62,-0.01)(6.75,0.02)(6.82,0.17)(6.89,0.39)(6.96,0.09)(7.03,-0.13)(7.10,-0.11)(7.20,-0.06)(7.31,-0.06)(7.36,-0.50)(7.42,-0.06)(7.47,0.44)(7.53,0.02)(7.58,-0.02)(7.86,-0.02)(8.14,0)(8.41,0.01)};
\addplot[bluF] coordinates {(7.58,0)(7.86,0)(8.00,0)(8.07,0.17)(8.11,0.28)(8.18,0.13)(8.25,-0.09)(8.31,-0.13)(8.38,-0.06)(8.44,-0.01)(8.51,-0.02)(8.56,0.20)(8.59,0.63)(8.63,-0.17)(8.69,-0.70)(8.74,-0.09)(8.83,-0.02)(9.10,0)(9.38,0.01)(9.59,0.04)};
\addplot[blkF] coordinates {(11.24,0.01)(11.73,0.02)(11.84,0.28)(11.91,0.55)(11.97,0.39)(12.03,0.02)(12.09,-1.42)(12.14,-0.53)(12.21,0.02)(12.28,-0.53)(12.35,-0.17)(12.44,0.02)(12.56,0.02)(12.83,0)(13.25,0.01)};
\addplot[redF] coordinates {(11.17,0)(11.52,-0.02)(11.73,0.02)(11.80,0.20)(11.86,0.39)(11.93,0.40)(12.00,0.28)(12.03,-0.35)(12.07,-1.53)(12.11,-0.35)(12.17,0.02)(12.22,-0.17)(12.28,-0.57)(12.33,-0.28)(12.42,-0.09)(12.49,0.15)(12.56,-0.06)(12.69,-0.02)(12.97,-0.02)(13.25,0)(13.52,0.01)};
\addplot[bluF] coordinates {(12.28,-0.02)(12.56,-0.02)(12.76,-0.02)(12.90,0)(12.97,0)(13.04,0.50)(13.11,0.02)(13.18,-0.24)(13.22,0.17)(13.27,0.06)(13.33,-0.24)(13.38,-0.28)(13.45,-0.09)(13.52,0.02)(13.59,0.13)(13.66,0.09)(13.73,0.07)};
\end{axis}
\begin{axis}[rightax, at={(847pt,20pt)}, width=338pt, height=236pt,
  ymin=-89.8, ymax=96, ytick={-50,0,50}, yticklabels={−50,0,50}, minor ytick={-80,-70,...,90},
  ylabel={Lat-red Lon}, ylabel style={at={(axis description cs:1.068,0.5)}}]
\end{axis}
\end{tikzpicture}
\end{document}
